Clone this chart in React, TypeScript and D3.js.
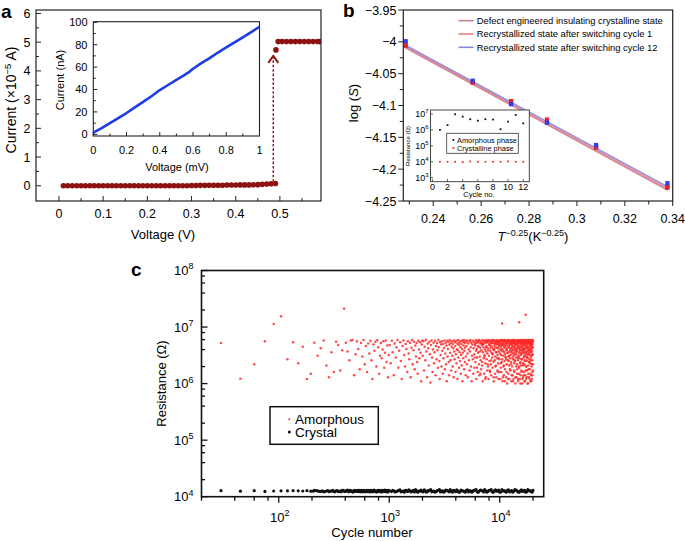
import React from "react";
import * as d3 from "d3";

const FONT = "'Liberation Sans', Arial, Helvetica, sans-serif";
const MAROON = "#8e1212";

/* ---------------- Panel a : I-V switching ---------------- */
const aVoltage = [0.01,0.02,0.03,0.04,0.05,0.06,0.07,0.08,0.09,0.10,0.11,0.12,0.13,0.14,0.15,0.16,0.17,0.18,0.19,0.20,0.21,0.22,0.23,0.24,0.25,0.26,0.27,0.28,0.29,0.30,0.31,0.32,0.33,0.34,0.35,0.36,0.37,0.38,0.39,0.40,0.41,0.42,0.43,0.44,0.45,0.46,0.47,0.48,0.49,0.491,0.496,0.505,0.515,0.525,0.535,0.545,0.555,0.565,0.575,0.585,0.59];
const aCurrent = [0,0,0,0,0,0,0,0,0,0,0,0,0,0,0,0,0,0,0,0,0,0,0,0,0,0,0,0,0,0.01,0.01,0.015,0.015,0.02,0.02,0.02,0.02,0.025,0.025,0.025,0.03,0.03,0.03,0.035,0.04,0.05,0.06,0.07,0.08,4.73,5.02,5.02,5.02,5.02,5.02,5.02,5.02,5.02,5.02,5.02,5.02];
const aXTicks = [0, 0.1, 0.2, 0.3, 0.4, 0.5];
const aXMinor = [0.05, 0.15, 0.25, 0.35, 0.45, 0.55];
const aYTicks = [0, 1, 2, 3, 4, 5, 6];
const aYMinor = [0.5, 1.5, 2.5, 3.5, 4.5, 5.5];
const aArrow = { voltage: 0.485, from: 0.14, to: 4.52 };

const aInsetVoltage = [0,0.05,0.1,0.15,0.2,0.25,0.3,0.35,0.4,0.45,0.5,0.55,0.58,0.6,0.65,0.7,0.75,0.8,0.85,0.9,0.95,1];
const aInsetCurrent = [1.5,5.5,10,14.5,19,24,29,34,39.5,44,48.5,53,56,58.5,63.5,68,73,77.5,82,86.5,91.2,96];
const aInsetXTicks = [0, 0.2, 0.4, 0.6, 0.8, 1];
const aInsetXMinor = [0.1, 0.3, 0.5, 0.7, 0.9];
const aInsetYTicks = [0, 20, 40, 60, 80, 100];
const aInsetYMinor = [10, 30, 50, 70, 90];

/* ---------------- Panel b : log(S) vs T^-0.25 ---------------- */
const bT = [0.2285, 0.2565, 0.2725, 0.2875, 0.308, 0.3378];
const bDefect = [-4.006, -4.064, -4.095, -4.125, -4.166, -4.229];
const bCycle1 = [-4.004, -4.063, -4.093, -4.122, -4.164, -4.227];
const bCycle12 = [-3.999, -4.061, -4.098, -4.127, -4.162, -4.222];
const bFitT = [0.2282, 0.338];
const bFitDefect = [-4.009, -4.233];
const bFitCycle1 = [-4.007, -4.231];
const bFitCycle12 = [-4.005, -4.228];
const bLegend = [
  "Defect engineered insulating crystalline state",
  "Recrystallized state after switching cycle 1",
  "Recrystallized state after switching cycle 12",
];
const bLineColors = ["#c98399", "#ef7d7d", "#8c86d8"];
const bMarkerColors = ["#b81d3c", "#ee2424", "#2a40f0"];
const bXTicks = [0.24, 0.26, 0.28, 0.3, 0.32, 0.34];
const bXMinor = [0.23, 0.25, 0.27, 0.29, 0.31, 0.33];
const bYTicks = [-3.95, -4, -4.05, -4.1, -4.15, -4.2, -4.25];
const bYMinor = [-3.975, -4.025, -4.075, -4.125, -4.175, -4.225];

const bInsetCycle = [1, 2, 3, 4, 5, 6, 7, 8, 9, 10, 11, 12];
const bInsetAmorphous = [1.0e6, 2.0e6, 9.6e6, 6.8e6, 4.7e6, 3.8e6, 4.7e6, 4.5e6, 1.1e6, 3.3e6, 8.7e6, 2.6e6];
const bInsetCrystalline = [1.0e4, 1.0e4, 1.0e4, 0.95e4, 1.05e4, 1.0e4, 1.0e4, 1.0e4, 1.0e4, 1.05e4, 1.0e4, 1.0e4];
const bInsetXTicks = [0, 2, 4, 6, 8, 10, 12];
const bInsetYExp = [3, 4, 5, 6, 7];

/* ---------------- Panel c : endurance ---------------- */
// [cycle number, resistance in MΩ]
const cAmorphous = [
[30,5.2],[45,1.22],[60,2.2],[75,5.6],[90,11.3],[105,15.5],
[120,2.7],[135,5.4],[150,2.3],[165,4.5],[180,1.2],[195,1.5],[210,5.3],[225,3.1],[240,4.2],[255,5.8],[270,2.1],[285,1.3],[300,3.6],[315,1.6],[330,5.5],[345,4.8],[360,1.7],[375,3.9],[390,21],[405,5.3],[420,3.7],[435,2.6],[450,5.8],[465,5.9],[480,1.4],[495,3.3],[510,5.6],[525,4.1],[540,1.8],[555,5.2],[570,3.0],[585,5.9],[600,2.2],[615,4.6],[630,1.6],[645,5.1],[660,3.4],[675,5.7],[690,2.6],[705,1.2],[720,4.9],[735,3.8],[750,5.5],[765,2.0],[780,5.9],[795,4.4],[810,1.5],[825,3.1],[840,5.2],[855,2.8],[870,4.0],[885,5.6],[900,1.9],[915,3.5],[930,5.8],[945,2.4],[960,4.7],[975,1.3],[990,3.2],
[1010,4.8],[1030,2.3],[1055,5.7],[1075,3.6],[1100,1.4],[1120,5.1],[1145,2.9],[1165,4.4],[1190,5.9],[1210,1.9],[1230,3.8],[1255,5.4],[1275,2.5],[1300,1.2],[1320,4.6],[1345,5.8],[1365,3.2],[1390,2.0],[1410,5.0],[1430,4.1],[1455,1.6],[1475,5.6],[1500,3.4],[1520,2.7],[1545,5.3],[1565,1.3],[1590,4.3],[1610,5.9],[1630,2.2],[1655,3.9],[1675,5.5],[1700,1.8],[1720,4.7],[1745,3.0],[1765,5.2],[1790,2.4],[1810,1.5],[1830,5.7],[1855,4.0],[1875,2.8],[1900,5.4],[1920,3.5],[1945,1.1],[1965,4.9],[1990,5.8],
[2010,3.1],[2040,5.6],[2065,1.7],[2090,4.5],[2120,2.6],[2145,5.9],[2170,3.7],[2200,1.3],[2225,5.1],[2250,4.2],[2280,2.1],[2305,5.5],[2330,3.3],[2360,1.05],[2385,4.8],[2410,5.8],[2440,2.9],[2465,1.6],[2490,4.0],[2520,5.3],[2545,2.3],[2570,3.6],[2600,5.7],[2625,1.4],[2650,4.6],[2680,2.7],[2705,5.2],[2730,3.9],[2760,1.9],[2785,5.9],[2810,4.4],[2840,2.5],[2865,1.2],[2890,5.4],[2920,3.2],[2945,4.9],[2970,2.0],[3000,5.6],[3025,3.8],[3050,1.5],[3080,5.0],[3105,2.8],[3130,4.3],[3160,5.8],[3185,1.8],[3210,3.4],[3240,5.3],[3265,2.2],[3290,4.7],[3320,1.1],[3345,5.7],[3370,3.0],[3400,4.1],[3425,5.5],[3450,2.4],[3480,1.4],[3505,4.9],[3530,5.9],[3560,3.5],[3585,2.6],[3610,5.2],[3640,1.7],[3665,4.5],[3690,5.6],[3720,3.1],[3745,2.0],[3770,5.0],[3800,4.2],[3825,1.3],[3850,5.8],[3880,3.7],[3905,2.7],[3930,5.4],[3960,4.6],[3985,1.6],[4010,3.3],[4040,5.7],[4065,2.3],[4090,4.0],[4120,5.1],[4145,1.2],[4170,3.9],[4200,5.9],[4225,2.9],[4250,4.8],[4280,1.9],[4305,5.3],[4330,3.6],[4360,2.5],[4385,5.6],[4410,4.4],[4440,1.5],[4465,3.2],[4490,5.0],[4520,2.1],[4545,5.8],[4570,4.1],[4600,1.1],[4625,3.5],[4650,5.5],[4680,2.8],[4705,4.7],[4730,5.9],[4760,1.8],[4785,3.8],[4810,5.2],[4840,2.4],[4865,4.3],[4890,5.7],[4920,1.4],[4945,3.0],[4970,5.4],
[5000,4.6],[5040,2.2],[5075,5.8],[5115,3.4],[5150,1.3],[5190,5.1],[5230,4.0],[5265,2.6],[5305,5.6],[5340,1.7],[5380,3.7],[5420,5.9],[5455,4.4],[5495,2.0],[5530,5.3],[5570,1.1],[5610,3.1],[5645,4.9],[5685,5.7],[5720,2.7],[5760,1.5],[5800,4.2],[5835,5.5],[5875,3.3],[5910,1.9],[5950,5.0],[5990,4.7],[6025,2.4],[6065,5.9],[6100,3.8],[6140,1.2],[6180,5.2],[6215,4.1],[6255,2.9],[6290,5.7],[6330,1.6],[6370,3.5],[6405,5.4],[6445,4.5],[6480,2.2],[6520,5.8],[6560,1.4],[6595,3.0],[6635,5.1],[6670,4.3],[6710,2.6],[6750,5.6],[6785,1.8],[6825,3.9],[6860,5.3],[6900,4.8],[6940,2.1],[6975,5.9],[7015,1.1],[7050,3.6],[7090,5.0],[7130,4.4],[7165,2.8],[7205,5.5],[7240,1.5],[7280,3.2],[7320,5.8],[7355,4.0],[7395,2.3],[7430,5.2],[7470,1.3],[7510,3.7],[7545,5.6],[7585,4.6],[7620,2.7],[7660,5.9],[7700,1.7],[7735,3.4],[7775,5.4],[7810,4.2],[7850,2.0],[7890,5.7],[7925,1.2],[7965,3.1],[8000,5.0],[8040,4.8],[8080,2.5],[8115,5.8],[8155,1.6],[8190,3.8],[8230,5.3],[8270,4.3],[8305,2.2],[8345,5.6],[8380,1.4],[8420,3.5],[8460,5.1],[8495,4.5],[8535,2.9],[8570,5.9],[8610,1.9],[8650,3.3],[8685,5.5],[8725,4.1],[8760,2.4],[8800,5.7],[8840,1.1],[8875,3.9],[8915,5.2],[8950,4.7],[8990,2.6],[9030,5.8],[9065,1.5],[9105,3.0],[9140,5.4],[9180,4.4],[9220,2.1],[9255,5.6],[9295,1.3],[9330,3.6],[9370,5.9],[9410,4.9],[9445,2.8],[9485,5.3],[9520,1.7],[9560,3.2],[9600,5.0],[9635,4.2],[9675,2.3],[9710,5.7],[9750,1.2],[9790,3.7],[9825,5.5],[9865,4.6],[9900,2.7],[9940,5.8],[9980,1.6],
[10020,5.2],[10065,3.4],[10110,1.2],[10155,5.8],[10200,4.5],[10245,2.3],[10290,5.5],[10335,1.6],[10380,3.8],[10425,5.9],[10470,4.1],[10500,11.5],[10515,2.7],[10560,5.3],[10605,1.1],[10650,3.1],[10695,5.7],[10740,4.8],[10785,2.0],[10830,5.0],[10875,1.4],[10920,3.6],[10965,5.6],[11010,4.3],[11055,2.5],[11100,5.9],[11145,1.8],[11190,3.3],[11235,5.4],[11280,4.6],[11325,2.9],[11370,5.1],[11415,1.3],[11460,3.9],[11505,5.8],[11550,4.0],[11595,2.2],[11640,5.6],[11685,1.0],[11730,3.5],[11775,5.2],[11820,4.7],[11865,2.6],[11910,5.9],[11955,1.5],[12000,3.0],[12045,5.5],[12090,4.4],[12135,2.1],[12180,5.7],[12225,1.2],[12270,3.7],[12315,5.3],[12360,4.9],[12405,2.8],[12450,5.0],[12495,1.7],[12540,3.2],[12585,5.8],[12630,4.2],[12675,2.4],[12720,5.6],[12765,1.1],[12810,3.8],[12855,5.4],[12900,4.5],[12945,2.0],[12990,5.9],[13035,1.4],[13080,3.4],[13125,5.1],[13170,4.0],[13215,2.7],[13260,5.7],[13305,1.2],[13350,3.1],[13395,5.5],[13440,4.6],[13485,2.3],[13530,5.2],[13575,1.6],[13620,3.6],[13665,5.9],[13710,4.3],[13755,2.5],[13800,5.3],[13845,1.0],[13890,3.9],[13935,5.6],[13980,4.8],[14025,2.9],[14070,5.0],[14115,1.3],[14160,3.3],[14205,5.8],[14250,4.1],[14295,2.2],[14340,5.4],[14385,1.8],[14430,3.7],[14475,5.7],[14520,4.4],[14565,2.6],[14610,5.1],[14655,1.1],[14700,3.0],[14745,5.9],[14790,4.7],[14835,2.0],[14880,5.5],[14925,1.5],[14970,3.5],[15000,12.2],[15015,5.2],[15060,4.2],[15105,2.8],[15150,5.8],[15195,1.2],[15240,3.8],[15285,5.3],[15330,4.5],[15375,2.4],[15420,5.6],[15465,1.4],[15510,3.2],[15555,5.0],[15600,4.9],[15645,2.1],[15690,5.9],[15735,1.7],[15780,3.4],[15825,5.4],[15870,4.0],[15915,2.7],[15960,5.7],[16005,1.0],[16050,3.6],[16095,5.1],[16140,4.6],[16185,2.3],[16230,5.5],[16275,1.3],[16320,3.9],[16365,5.8],[16410,4.3],[16455,2.9],[16500,5.2],[16545,1.6],[16590,3.1],[16635,5.6],[16680,4.8],[16725,2.2],[16770,5.9],[16815,1.1],[16860,3.7],[16905,5.3],[16950,4.1],[16995,2.6],[17040,5.0],[17085,1.4],[17130,3.3],[17175,5.7],[17200,16.5],[17220,4.4],[17265,2.0],[17310,5.4],[17355,1.2],[17400,3.5],[17445,5.8],[17490,4.7],[17535,2.5],[17580,5.1],[17625,1.7],[17670,3.0],[17715,5.6],[17760,4.2],[17805,2.8],[17850,5.9],[17895,1.0],[17940,3.8],[17985,5.2],[18030,4.5],[18075,2.1],[18120,5.5],[18165,1.5],[18210,3.4],[18255,5.7],[18300,4.0],[18345,2.4],[18390,5.3],[18435,1.3],[18480,3.6],[18525,5.9],[18570,4.9],[18615,2.7],[18660,5.0],[18705,1.8],[18750,3.2],[18795,5.6],[18840,4.3],[18885,2.3],[18930,5.8],[18975,1.1],[19020,3.9],[19065,5.4],[19110,4.6],[19155,2.9],[19200,5.1],[19245,1.4],[19290,3.1],[19335,5.7],[19380,4.1],[19425,2.0],[19470,5.5],[19515,1.2],[19560,3.7],[19605,5.9],[19650,4.8],[19695,2.6],[19740,5.2],[19785,1.6],[19830,3.3],[19875,5.6],[19920,4.4],[19965,2.2],[20000,5.8]
];
// further amorphous readings in the dense right-hand block, [cycle, MΩ]
const cAmorphousDense = [
[6010,2.9],[6120,5.4],[6230,1.9],[6350,4.6],[6470,5.9],[6590,3.7],[6700,1.5],[6820,5.2],[6930,2.4],[7060,4.9],[7180,5.7],[7290,3.0],[7410,1.2],[7530,4.4],[7640,5.5],[7760,2.2],[7880,3.9],[7990,5.8],[8110,1.7],[8220,4.7],[8340,2.6],[8450,5.3],[8570,3.4],[8690,5.9],[8800,1.3],[8920,4.1],[9030,5.0],[9150,2.0],[9260,3.6],[9380,5.6],[9490,4.3],[9610,1.6],[9720,5.1],[9840,2.8],[9950,4.8],
[10040,4.0],[10120,5.7],[10200,1.9],[10280,3.2],[10360,5.0],[10440,2.4],[10520,4.7],[10600,5.9],[10680,1.3],[10760,3.8],[10840,5.4],[10920,2.1],[11000,4.5],[11080,5.8],[11160,1.1],[11240,3.0],[11320,4.9],[11400,5.6],[11480,2.7],[11560,1.6],[11640,4.2],[11720,5.3],[11800,3.5],[11880,1.2],[11960,5.9],[12040,2.5],[12120,4.6],[12200,3.1],[12280,5.5],[12360,1.8],[12440,4.0],[12520,5.7],[12600,2.2],[12680,3.6],[12760,5.1],[12840,1.4],[12920,4.8],[13000,5.8],[13080,2.9],[13160,1.1],[13240,3.9],[13320,5.4],[13400,4.4],[13480,1.7],[13560,5.9],[13640,2.6],[13720,3.3],[13800,5.0],[13880,1.3],[13960,4.1],[14040,5.6],[14120,2.0],[14200,3.7],[14280,5.3],[14360,1.5],[14440,4.7],[14520,5.8],[14600,2.8],[14680,1.2],[14760,4.3],[14840,5.5],[14920,3.1],[15000,1.9],[15080,5.7],[15160,4.0],[15240,2.3],[15320,5.2],[15400,1.0],[15480,3.4],[15560,5.9],[15640,4.5],[15720,1.6],[15800,2.7],[15880,5.4],[15960,3.8],[16040,1.2],[16120,5.0],[16200,4.2],[16280,2.1],[16360,5.7],[16440,1.4],[16520,3.5],[16600,4.9],[16680,5.9],[16760,2.5],[16840,1.1],[16920,4.1],[17000,5.3],[17080,3.0],[17160,1.7],[17240,5.6],[17320,4.6],[17400,2.0],[17480,5.8],[17560,1.3],[17640,3.7],[17720,5.1],[17800,2.9],[17880,4.4],[17960,1.0],[18040,5.5],[18120,3.3],[18200,1.8],[18280,5.9],[18360,4.0],[18440,2.4],[18520,5.2],[18600,1.2],[18680,3.9],[18760,5.7],[18840,4.7],[18920,1.5],[19000,2.6],[19080,5.4],[19160,3.6],[19240,1.1],[19320,4.9],[19400,5.8],[19480,2.2],[19560,4.3],[19640,1.4],[19720,5.0],[19800,3.2],[19880,5.6],[19960,1.7]
];
// [cycle number, resistance in units of 10^4 Ω]
const cCrystal = [
[30,1.28],[45,1.25],[60,1.28],[75,1.24],[90,1.26],[105,1.27],[120,1.27],[135,1.28],[150,1.27],[165,1.26],[180,1.28],[195,1.25],[205,1.25],[210,1.30],[218,1.28],[225,1.27],[232,1.24],[240,1.24],[248,1.27],[255,1.22],[262,1.23],[270,1.26],[278,1.28],[285,1.23],[292,1.25],[300,1.25],[308,1.29],
[315,1.24],[322,1.22],[330,1.27],[338,1.28],[345,1.23],[352,1.24],[360,1.26],[368,1.22],[375,1.29],[382,1.29],[390,1.25],[398,1.23],[405,1.27],[412,1.27],[420,1.31],[428,1.22],[435,1.24],[442,1.29],[450,1.26],[458,1.25],[465,1.22],[472,1.21],[480,1.28],[488,1.29],[495,1.25],[502,1.24],[510,1.27],[518,1.30],[525,1.23],[532,1.25],[540,1.29],[548,1.22],[555,1.26],[562,1.30],[570,1.24],[578,1.22],[585,1.28],[592,1.29],[600,1.25],[610,1.22],[620,1.27],[630,1.30],[640,1.23],[650,1.25],[660,1.30],[670,1.21],[680,1.26],[690,1.29],[700,1.24],[710,1.22],[720,1.28],[730,1.31],[740,1.25],[750,1.26],[760,1.22],[770,1.21],[780,1.27],[790,1.30],[800,1.29],[810,1.23],[820,1.24],[830,1.30],[840,1.26],[850,1.21],[860,1.23],[870,1.29],[880,1.28],[890,1.23],[900,1.25],[910,1.31],[920,1.27],[930,1.25],[940,1.22],[950,1.30],[960,1.26],[970,1.21],[980,1.24],[990,1.29],[1000,1.28],
[1050,1.23],[1075,1.30],[1100,1.27],[1130,1.21],[1160,1.24],[1190,1.26],[1220,1.29],[1250,1.32],[1280,1.22],[1310,1.24],[1340,1.26],[1370,1.20],[1400,1.30],[1435,1.28],[1470,1.23],[1505,1.32],[1540,1.27],[1575,1.21],[1610,1.25],[1650,1.29],[1690,1.21],[1730,1.33],[1770,1.28],[1810,1.20],[1850,1.24],[1895,1.27],[1940,1.31],[1985,1.23],[2030,1.22],[2075,1.32],[2120,1.27],[2170,1.20],[2220,1.25],[2270,1.28],[2320,1.29],[2375,1.33],[2430,1.22],[2485,1.24],[2540,1.26],[2600,1.20],[2660,1.24],[2720,1.28],[2780,1.30],[2845,1.33],[2910,1.21],[2975,1.25],[3040,1.27],[3110,1.20],[3180,1.25],[3255,1.31],[3330,1.29],[3405,1.26],[3480,1.22],[3560,1.33],[3640,1.26],[3725,1.20],[3810,1.30],[3900,1.27],[3990,1.23],[4080,1.32],[4170,1.27],[4265,1.20],[4360,1.21],[4460,1.31],[4560,1.28],[4665,1.26],[4770,1.24],[4880,1.20],[4990,1.30],[5105,1.32],[5220,1.22],[5340,1.27],[5460,1.27],[5585,1.20],[5710,1.25],[5840,1.29],[5970,1.31],[6110,1.33],[6250,1.22],[6390,1.20],[6530,1.26],[6680,1.31],[6830,1.29],[6990,1.26],[7150,1.21],[7310,1.33],[7480,1.27],[7650,1.20],[7820,1.24],[8000,1.29],[8180,1.30],[8370,1.33],[8560,1.22],[8750,1.20],[8950,1.28],[9150,1.32],[9360,1.25],[9570,1.27],[9790,1.31],[10010,1.20],[10240,1.21],[10470,1.33],[10710,1.27],[10950,1.28],[11200,1.24],[11460,1.20],[11720,1.30],[11990,1.32],[12260,1.22],[12540,1.26],[12820,1.28],[13110,1.20],[13410,1.25],[13720,1.33],[14030,1.31],[14350,1.27],[14670,1.21],[15010,1.20],[15350,1.27],[15700,1.32],[16050,1.24],[16420,1.27],[16790,1.30],[17170,1.20],[17560,1.22],[17960,1.33],[18370,1.28],[18790,1.27],[19210,1.25],[19600,1.20],[20000,1.29]
];
const cXMajorExp = [2, 3, 4];
const cXMinor = [20, 40, 60, 80, 200, 400, 600, 800, 2000, 4000, 6000, 8000, 20000];
const cYMajorExp = [4, 5, 6, 7, 8];
const cYMinor = [2e4, 4e4, 6e4, 8e4, 2e5, 4e5, 6e5, 8e5, 2e6, 4e6, 6e6, 8e6, 2e7, 4e7, 6e7, 8e7];
const cLegend = ["Amorphous", "Crystal"];

/* ---------------- helpers ---------------- */
const Pow = ({ e, sup }: { e: number; sup: number }) => (
  <>10<tspan dy={-sup * 0.62} fontSize={sup}>{e}</tspan></>
);

function InsetA() {
  const L = 93.3, R = 259.5, T = 21.7, B = 136;
  const x = d3.scaleLinear().domain([0, 1]).range([L, R]);
  const y = d3.scaleLinear().domain([-1.5, 100.5]).range([B, T]);
  const path = d3.line<number>().x((_, i) => x(aInsetVoltage[i])).y((d) => y(d)).curve(d3.curveLinear)(aInsetCurrent) || "";
  return (
    <g>
      <rect x={L} y={T} width={R - L} height={B - T} fill="#fff" stroke="#222" strokeWidth={1.1} />
      <path d={path} fill="none" stroke="#1c3ce8" strokeWidth={2.6} strokeLinejoin="round" />
      {aInsetXTicks.map((v) => <line key={"ixt" + v} x1={x(v)} x2={x(v)} y1={B} y2={B - 4} stroke="#222" />)}
      {aInsetXMinor.map((v) => <line key={"ixm" + v} x1={x(v)} x2={x(v)} y1={B} y2={B - 2.5} stroke="#222" />)}
      {aInsetYTicks.map((v) => <line key={"iyt" + v} x1={L} x2={L + 4} y1={y(v)} y2={y(v)} stroke="#222" />)}
      {aInsetYMinor.map((v) => <line key={"iym" + v} x1={L} x2={L + 2.5} y1={y(v)} y2={y(v)} stroke="#222" />)}
      {aInsetXTicks.map((v) => <text key={"ixl" + v} x={x(v)} y={154} textAnchor="middle" fontSize={11}>{String(v)}</text>)}
      {aInsetYTicks.map((v) => <text key={"iyl" + v} x={87.5} y={y(v) + 4} textAnchor="end" fontSize={11}>{String(v)}</text>)}
      <text x={177} y={171} textAnchor="middle" fontSize={11}>Voltage (mV)</text>
      <text transform="translate(64,80) rotate(-90)" textAnchor="middle" fontSize={11}>Current (nA)</text>
    </g>
  );
}

function PanelA() {
  const L = 36, R = 321, T = 10, B = 201;
  const x = d3.scaleLinear().domain([-0.052, 0.593]).range([L, R]);
  const y = d3.scaleLinear().domain([-0.53, 6.12]).range([B, T]);
  const ax = x(aArrow.voltage), aTop = y(aArrow.to), aBot = y(aArrow.from);
  return (
    <g>
      <text x={1} y={18} fontSize={19} fontWeight="bold">a</text>
      <defs>
        <clipPath id="clipA"><rect x={L} y={T} width={R - L} height={B - T} /></clipPath>
      </defs>
      <g clipPath="url(#clipA)">
        {aVoltage.map((v, i) => <circle key={"a" + i} cx={x(v)} cy={y(aCurrent[i])} r={2.8} fill={MAROON} />)}
      </g>
      <line x1={ax} x2={ax} y1={aBot} y2={aTop + 1} stroke={MAROON} strokeWidth={1.4} strokeDasharray="2.6 1.8" />
      <polyline points={`${ax - 5},${aTop + 7} ${ax},${aTop} ${ax + 5},${aTop + 7}`} fill="none" stroke={MAROON} strokeWidth={2} />
      <rect x={L} y={T} width={R - L} height={B - T} fill="none" stroke="#222" strokeWidth={1.2} />
      {aXTicks.map((v) => <line key={"xt" + v} x1={x(v)} x2={x(v)} y1={B} y2={B - 5} stroke="#222" />)}
      {aXMinor.map((v) => <line key={"xm" + v} x1={x(v)} x2={x(v)} y1={B} y2={B - 3} stroke="#222" />)}
      {aYTicks.map((v) => <line key={"yt" + v} x1={L} x2={L + 5} y1={y(v)} y2={y(v)} stroke="#222" />)}
      {aYMinor.map((v) => <line key={"ym" + v} x1={L} x2={L + 3} y1={y(v)} y2={y(v)} stroke="#222" />)}
      {aXTicks.map((v) => <text key={"xl" + v} x={x(v)} y={218} textAnchor="middle" fontSize={12.5}>{String(v)}</text>)}
      {aYTicks.map((v) => <text key={"yl" + v} x={30.5} y={y(v) + 4.5} textAnchor="end" fontSize={12.5}>{String(v)}</text>)}
      <text x={163} y={239} textAnchor="middle" fontSize={13}>Voltage (V)</text>
      <text transform="translate(16,100) rotate(-90)" textAnchor="middle" fontSize={14}>
        Current (×10<tspan dy={-5} fontSize={9.5}>−5</tspan><tspan dy={5}> A)</tspan>
      </text>
      <InsetA />
    </g>
  );
}

function InsetB() {
  const L = 430.5, R = 529.3, T = 110, B = 181.7;
  const x = d3.scaleLinear().domain([-0.25, 12.8]).range([L, R]);
  const y = d3.scaleLog().domain([Math.pow(10, 2.75), Math.pow(10, 7.25)]).range([B, T]);
  return (
    <g>
      <rect x={L} y={T} width={R - L} height={B - T} fill="#fff" stroke="#333" strokeWidth={0.9} />
      {bInsetXTicks.map((v) => <line key={"bxt" + v} x1={x(v)} x2={x(v)} y1={B} y2={B - 2.5} stroke="#333" strokeWidth={0.8} />)}
      {bInsetYExp.map((e) => <line key={"byt" + e} x1={L} x2={L + 2.5} y1={y(Math.pow(10, e))} y2={y(Math.pow(10, e))} stroke="#333" strokeWidth={0.8} />)}
      {bInsetXTicks.map((v) => <text key={"bxl" + v} x={x(v)} y={189.5} textAnchor="middle" fontSize={9}>{String(v)}</text>)}
      {bInsetYExp.map((e) => (
        <text key={"byl" + e} x={428.5} y={y(Math.pow(10, e)) + 3} textAnchor="end" fontSize={9}><Pow e={e} sup={6} /></text>
      ))}
      <text x={479} y={197} textAnchor="middle" fontSize={7.5}>Cycle no.</text>
      <text transform="translate(409.5,146) rotate(-90)" textAnchor="middle" fontSize={6}>Resistance (Ω)</text>
      {bInsetCycle.map((c, i) => <rect key={"bia" + i} x={x(c) - 0.9} y={y(bInsetAmorphous[i]) - 0.9} width={1.8} height={1.8} fill="#111" />)}
      {bInsetCycle.map((c, i) => <rect key={"bic" + i} x={x(c) - 0.9} y={y(bInsetCrystalline[i]) - 0.9} width={1.8} height={1.8} fill="#f03030" />)}
      <rect x={446.7} y={133.3} width={71.6} height={20} fill="#fff" stroke="#333" strokeWidth={0.8} />
      <rect x={452.5} y={139} width={1.8} height={1.8} fill="#111" />
      <rect x={452.5} y={147.2} width={1.8} height={1.8} fill="#f03030" />
      <text x={457} y={142.5} fontSize={7.4}>Amorphous phase</text>
      <text x={457} y={150.7} fontSize={7.4}>Crystalline phase</text>
    </g>
  );
}

function PanelB() {
  const L = 403.3, R = 672.7, T = 10, B = 201;
  const x = d3.scaleLinear().domain([0.2275, 0.34]).range([L, R]);
  const y = d3.scaleLinear().domain([-4.25, -3.95]).range([B, T]);
  const fmt = d3.format("~g");
  const fits = [bFitDefect, bFitCycle1, bFitCycle12];
  const series = [bDefect, bCycle1, bCycle12];
  const line = (vals: number[]) => d3.line<number>().x((_, i) => x(bFitT[i])).y((d) => y(d))(vals) || "";
  return (
    <g>
      <text x={343} y={17} fontSize={19} fontWeight="bold">b</text>
      {fits.map((f, k) => <path key={"fit" + k} d={line(f)} fill="none" stroke={bLineColors[k]} strokeWidth={1.6} opacity={0.9} />)}
      {series.map((s, k) =>
        s.map((v, i) => (
          <rect key={"bp" + k + "-" + i} x={x(bT[i]) - 2.1} y={y(v) - 2.1} width={4.2} height={4.2} fill={bMarkerColors[k]} />
        ))
      )}
      <rect x={L} y={T} width={R - L} height={B - T} fill="none" stroke="#222" strokeWidth={1.2} />
      {bXTicks.map((v) => <line key={"bxt" + v} x1={x(v)} x2={x(v)} y1={B} y2={B + 5} stroke="#222" />)}
      {bXMinor.map((v) => <line key={"bxm" + v} x1={x(v)} x2={x(v)} y1={B} y2={B + 3.5} stroke="#222" />)}
      {bYTicks.map((v) => <line key={"byt" + v} x1={L} x2={L - 5} y1={y(v)} y2={y(v)} stroke="#222" />)}
      {bYMinor.map((v) => <line key={"bym" + v} x1={L} x2={L - 3.5} y1={y(v)} y2={y(v)} stroke="#222" />)}
      {bXTicks.map((v) => <text key={"bxl" + v} x={x(v)} y={222.5} textAnchor="middle" fontSize={12.5}>{fmt(v)}</text>)}
      {bYTicks.map((v) => <text key={"byl" + v} x={396.5} y={y(v) + 4.5} textAnchor="end" fontSize={12.5}>{fmt(v)}</text>)}
      <text x={533} y={241} textAnchor="middle" fontSize={13}>
        <tspan fontStyle="italic">T</tspan>
        <tspan dy={-5} fontSize={9}>−0.25</tspan>
        <tspan dy={5}>(K</tspan>
        <tspan dy={-5} fontSize={9}>−0.25</tspan>
        <tspan dy={5}>)</tspan>
      </text>
      <text transform="translate(357.5,103) rotate(-90)" textAnchor="middle" fontSize={13}>
        log (<tspan fontStyle="italic">S</tspan>)
      </text>
      {bLegend.map((t, k) => (
        <g key={"bl" + k}>
          <line x1={458.5} x2={473.5} y1={20.7 + k * 13.3} y2={20.7 + k * 13.3} stroke={bLineColors[k]} strokeWidth={1.6} />
          <text x={476.7} y={24 + k * 13.3} fontSize={9.4}>{t}</text>
        </g>
      ))}
      <InsetB />
    </g>
  );
}

function PanelC() {
  const L = 201.5, R = 543.7, T = 270.5, B = 496.7;
  const x = d3.scaleLog().domain([20, 25000]).range([L, R]);
  const y = d3.scaleLog().domain([1e4, 1e8]).range([B, T]);
  return (
    <g>
      <text x={131} y={276} fontSize={19} fontWeight="bold">c</text>
      <defs>
        <clipPath id="clipC"><rect x={L} y={T} width={R - L} height={B - T} /></clipPath>
      </defs>
      <g clipPath="url(#clipC)">
        {cAmorphous.map(([c, r], i) => <circle key={"ca" + i} cx={x(c)} cy={y(r * 1e6)} r={1.25} fill="#ff2a2a" opacity={0.85} />)}
        {cAmorphousDense.map(([c, r], i) => <circle key={"cd" + i} cx={x(c)} cy={y(r * 1e6)} r={1.25} fill="#ff2a2a" opacity={0.85} />)}
        {cCrystal.map(([c, r], i) => <circle key={"cc" + i} cx={x(c)} cy={y(r * 1e4)} r={1.6} fill="#111" />)}
      </g>
      <rect x={L} y={T} width={R - L} height={B - T} fill="none" stroke="#111" strokeWidth={1.6} />
      {cXMajorExp.map((e) => <line key={"cxt" + e} x1={x(Math.pow(10, e))} x2={x(Math.pow(10, e))} y1={B} y2={B + 6} stroke="#111" strokeWidth={1.3} />)}
      {cXMinor.map((v) => <line key={"cxm" + v} x1={x(v)} x2={x(v)} y1={B} y2={B + 4} stroke="#111" strokeWidth={1.3} />)}
      {cYMajorExp.map((e) => <line key={"cyt" + e} x1={L} x2={L + 6} y1={y(Math.pow(10, e))} y2={y(Math.pow(10, e))} stroke="#111" strokeWidth={1.3} />)}
      {cYMinor.map((v) => <line key={"cym" + v} x1={L} x2={L + 3.5} y1={y(v)} y2={y(v)} stroke="#111" strokeWidth={1.3} />)}
      {cXMajorExp.map((e) => (
        <text key={"cxl" + e} x={x(Math.pow(10, e)) + 1} y={522} textAnchor="middle" fontSize={13}><Pow e={e} sup={9} /></text>
      ))}
      {cYMajorExp.map((e) => (
        <text key={"cyl" + e} x={193.5} y={y(Math.pow(10, e)) + 4.5} textAnchor="end" fontSize={13}><Pow e={e} sup={9} /></text>
      ))}
      <text x={372} y={537} textAnchor="middle" fontSize={13.2}>Cycle number</text>
      <text transform="translate(166,383.5) rotate(-90)" textAnchor="middle" fontSize={13}>Resistance (Ω)</text>
      <rect x={270} y={406.7} width={108.3} height={37.6} fill="#fff" stroke="#111" strokeWidth={1.5} />
      <circle cx={289.3} cy={419.3} r={1} fill="#ff2a2a" />
      <circle cx={289.3} cy={432} r={1.5} fill="#111" />
      <text x={295} y={423.5} fontSize={13.5}>{cLegend[0]}</text>
      <text x={295} y={437} fontSize={13.5}>{cLegend[1]}</text>
    </g>
  );
}

export default function App() {
  return (
    <svg
      width={685}
      height={541}
      viewBox="0 0 685 541"
      style={{ position: "absolute", left: 0, top: 0, background: "#fff" }}
      fontFamily={FONT}
    >
      <rect width={685} height={541} fill="#fff" />
      <PanelA />
      <PanelB />
      <PanelC />
    </svg>
  );
}
